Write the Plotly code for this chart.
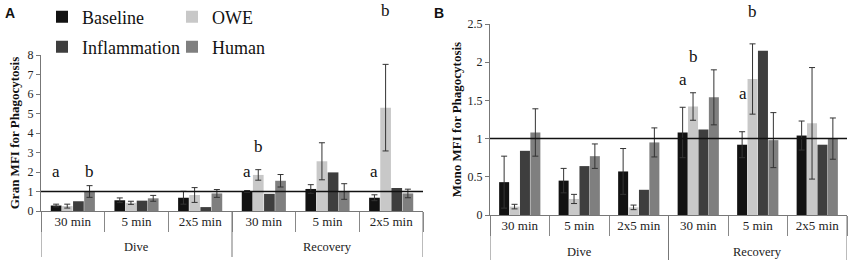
import plotly.graph_objects as go

# ---------------- data ----------------
series_names = ["Baseline", "OWE", "Inflammation", "Human"]
series_colors = ["#121212", "#c8c8c8", "#3e3e3e", "#7f7f7f"]
inner_labels = ["30 min", "5 min", "2x5 min", "30 min", "5 min", "2x5 min"]
outer_labels = ["Dive", "Recovery"]
group_pos = [0, 1, 2, 3, 4, 5]

# Panel A: Gran MFI for Phagocytosis
gran_baseline = [0.28, 0.55, 0.68, 1.00, 1.13, 0.68]
gran_baseline_err = [0.07, 0.12, 0.33, 0.05, 0.22, 0.15]
gran_owe = [0.25, 0.42, 0.82, 1.85, 2.55, 5.30]
gran_owe_err = [0.10, 0.08, 0.38, 0.27, 0.95, 2.22]
gran_infl = [0.50, 0.53, 0.20, 0.88, 1.98, 1.18]
gran_human = [1.00, 0.65, 0.90, 1.55, 1.00, 0.90]
gran_human_err = [0.30, 0.15, 0.20, 0.32, 0.40, 0.22]

# Panel B: Mono MFI for Phagocytosis
mono_baseline = [0.43, 0.45, 0.57, 1.08, 0.92, 1.04]
mono_baseline_err = [0.34, 0.16, 0.30, 0.33, 0.17, 0.19]
mono_owe = [0.11, 0.21, 0.10, 1.42, 1.78, 1.20]
mono_owe_err = [0.03, 0.06, 0.03, 0.18, 0.46, 0.73]
mono_infl = [0.84, 0.64, 0.33, 1.12, 2.15, 0.92]
mono_human = [1.08, 0.77, 0.95, 1.54, 0.98, 1.00]
mono_human_err = [0.31, 0.16, 0.19, 0.36, 0.36, 0.27]

reference_value = 1
gran_range = [0, 8]
mono_range = [0, 2.5]

# significance letters: (group position, offset within group, y value, text)
gran_letters = [(0, -0.2625, 2.05, "a"), (0, 0.2625, 2.05, "b"),
                (3, -0.2625, 2.05, "a"), (3, -0.0875, 3.33, "b"),
                (5, -0.2625, 2.05, "a"), (5, -0.0875, 10.26, "b")]
mono_letters = [(3, -0.2625, 1.78, "a"), (3, -0.0875, 2.07, "b"),
                (4, -0.25, 1.59, "a"), (4, -0.0875, 2.67, "b")]

SERIF = "Liberation Serif, Times New Roman, serif"
W, H = 851, 264

fig = go.Figure()

panels = [
    dict(xa="x", ya="y", vals=[gran_baseline, gran_owe, gran_infl, gran_human],
         errs=[gran_baseline_err, gran_owe_err, None, gran_human_err]),
    dict(xa="x2", ya="y2", vals=[mono_baseline, mono_owe, mono_infl, mono_human],
         errs=[mono_baseline_err, mono_owe_err, None, mono_human_err]),
]
legend_of = ["legend", "legend", "legend2", "legend2"]

for pi, p in enumerate(panels):
    for si, name in enumerate(series_names):
        err = p["errs"][si]
        fig.add_trace(go.Bar(
            x=group_pos, y=p["vals"][si], name=name,
            marker=dict(color=series_colors[si], line=dict(width=0)),
            error_y=(dict(type="data", array=err, visible=True, color="#333333",
                          thickness=1, width=3) if err is not None else None),
            xaxis=p["xa"], yaxis=p["ya"], offsetgroup=str(si),
            showlegend=(pi == 0), legend=legend_of[si],
        ))

def px_x(v):
    return v / W

def px_y(v):
    return 1 - v / H

# geometry (pixels)
A_left, A_right, A_top, A_bot = 41, 423, 55, 211
B_left, B_right, B_top, B_bot = 490, 847, 24, 215

boundaries = [-0.5, 0.5, 1.5, 2.5, 3.5, 4.5, 5.5]

common_x = dict(
    range=[-0.5, 5.5], tickmode="array", tickvals=group_pos, ticktext=inner_labels,
    ticks="", showline=True, linecolor="#777777", linewidth=1, showgrid=False,
    zeroline=False, tickfont=dict(family=SERIF, size=13, color="#222222"),
    ticklabelstandoff=-2, fixedrange=True,
    minor=dict(tickmode="array", tickvals=boundaries, ticks="outside", ticklen=20,
               tickcolor="#888888", tickwidth=1, showgrid=False),
)
common_y = dict(
    showline=True, linecolor="#777777", linewidth=1, showgrid=False, zeroline=False,
    ticks="outside", ticklen=4, tickcolor="#777777", fixedrange=True,
    tickfont=dict(family=SERIF, size=12, color="#222222"),
)

legend_common = dict(orientation="h", xanchor="left", yanchor="middle",
                     font=dict(family=SERIF, size=18, color="#111111"),
                     entrywidth=85, entrywidthmode="pixels", bgcolor="rgba(0,0,0,0)")

fig.update_layout(
    width=W, height=H, margin=dict(l=0, r=0, t=0, b=0, autoexpand=False),
    font=dict(family=SERIF, color="#222222"),
    paper_bgcolor="white", plot_bgcolor="white",
    barmode="group", bargap=0.3, bargroupgap=0.04,
    xaxis=dict(domain=[px_x(A_left), px_x(A_right)], anchor="y", **common_x),
    xaxis2=dict(domain=[px_x(B_left), px_x(B_right)], anchor="y2", **common_x),
    yaxis=dict(domain=[px_y(A_bot), px_y(A_top)], anchor="x", range=gran_range, dtick=1,
               title=dict(text="<b>Gran MFI for Phagocytosis</b>", standoff=5,
                          font=dict(family=SERIF, size=13, color="#111111")),
               **common_y),
    yaxis2=dict(domain=[px_y(B_bot), px_y(B_top)], anchor="x2", range=mono_range, dtick=0.5,
                title=dict(text="<b>Mono MFI for Phagocytosis</b>", standoff=3,
                           font=dict(family=SERIF, size=13, color="#111111")),
                **common_y),
    legend=dict(x=px_x(42), y=px_y(17), **legend_common),
    legend2=dict(x=px_x(42), y=px_y(47), **legend_common),
    showlegend=True,
)

shapes = []
annotations = []
for xa, ya, bot in [("x", "y", A_bot), ("x2", "y2", B_bot)]:
    # reference line at 1
    shapes.append(dict(type="line", xref=f"{xa} domain", yref=ya, x0=0, x1=1,
                       y0=reference_value, y1=reference_value,
                       line=dict(color="#111111", width=1.5)))
    # long separators between outer categories
    long_bottom = 257 if xa == "x" else 260
    for b in [-0.5, 2.5, 5.5]:
        shapes.append(dict(type="line", xref=xa, yref="paper", x0=b, x1=b,
                           y0=px_y(bot), y1=px_y(long_bottom),
                           line=dict(color="#777777", width=1)))
    outer_y = 247 if xa == "x" else 252
    for gi, lab in enumerate(outer_labels):
        annotations.append(dict(xref=xa, yref="paper", x=1 + 3 * gi, y=px_y(outer_y),
                                text=lab, showarrow=False, yanchor="middle",
                                font=dict(family=SERIF, size=12.5, color="#222222")))

for (xa, ya, letters, rng) in [("x", "y", gran_letters, gran_range),
                               ("x2", "y2", mono_letters, mono_range)]:
    for g, off, yv, t in letters:
        # letters above the axis range are placed in axis-domain units
        if yv > rng[1]:
            yref, ypos = f"{ya} domain", (yv - rng[0]) / (rng[1] - rng[0])
        else:
            yref, ypos = ya, yv
        annotations.append(dict(xref=xa, yref=yref, x=g + off, y=ypos, text=t,
                                showarrow=False, yanchor="middle",
                                font=dict(family=SERIF, size=17, color="#111111")))

annotations.append(dict(xref="paper", yref="paper", x=px_x(3), y=px_y(13), text="<b>A</b>",
                        showarrow=False, xanchor="left", yanchor="middle",
                        font=dict(family="Liberation Sans", size=14, color="#111111")))
annotations.append(dict(xref="paper", yref="paper", x=px_x(432), y=px_y(13), text="<b>B</b>",
                        showarrow=False, xanchor="left", yanchor="middle",
                        font=dict(family="Liberation Sans", size=14, color="#111111")))

fig.update_layout(shapes=shapes, annotations=annotations)
fig.write_html("out.html", config={"displayModeBar": False},
               post_script="document.body.style.margin='0';")
